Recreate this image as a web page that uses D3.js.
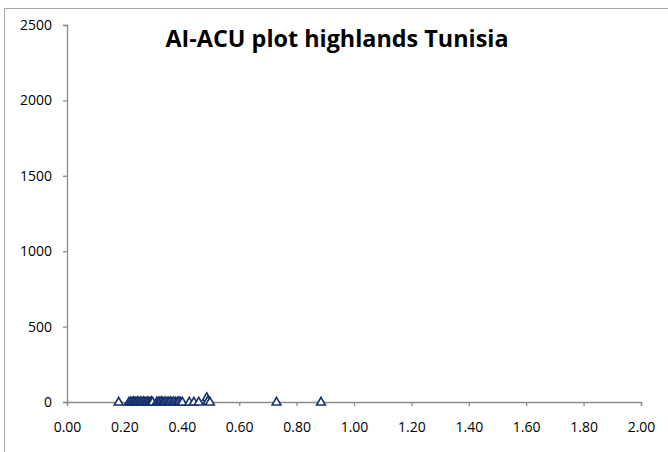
<!DOCTYPE html>
<html>
<head>
<meta charset="utf-8">
<script src="https://d3js.org/d3.v7.min.js"></script>
<style>
    body { margin: 0; background: #fff; }
    .tickLabel { font-family: "Open Sans", sans-serif; font-size: 14px; fill: #000; }
    .chartTitle { font-family: "Open Sans", sans-serif; font-weight: bold; font-size: 23px; fill: #000; }
</style>
</head>
<body>
<script>
//wrap everything in an anonymous function so nothing ends up in global scope
(function () {

    //chart data (AI on x, ACU on y)
    var aiValues = [0.18, 0.216, 0.222, 0.227, 0.231, 0.236, 0.24, 0.245, 0.25, 0.255,
        0.26, 0.266, 0.271, 0.276, 0.28, 0.285, 0.29, 0.294, 0.298, 0.313,
        0.318, 0.323, 0.328, 0.333, 0.338, 0.343, 0.349, 0.354, 0.36, 0.366,
        0.372, 0.378, 0.384, 0.39, 0.396, 0.402, 0.426, 0.442, 0.459, 0.487,
        0.49, 0.498, 0.73, 0.885];
    var acuValues = [0, 0, 2, 0, 3, 0, 0, 4, 0, 2,
        0, 3, 0, 0, 2, 0, 0, 3, 0, 2,
        0, 0, 3, 0, 0, 2, 0, 0, 3, 0,
        2, 0, 0, 3, 0, 0, 0, 0, 0, 30,
        5, 0, 0, 0];
    var xTicks = [0, 0.2, 0.4, 0.6, 0.8, 1.0, 1.2, 1.4, 1.6, 1.8, 2.0];
    var yTicks = [0, 500, 1000, 1500, 2000, 2500];
    var titleText = "AI-ACU plot highlands Tunisia";

    window.onload = setChart();

    function setChart() {
        var width = 668,
            height = 452;

        //plot area edges
        var left = 67, right = 641, top = 25, bottom = 402;

        var svg = d3.select("body")
            .append("svg")
            .attr("width", width)
            .attr("height", height);

        //chart area border (runs off the right and bottom of the picture)
        svg.append("rect")
            .attr("x", 4.5)
            .attr("y", 8.5)
            .attr("width", width + 10)
            .attr("height", height + 10)
            .attr("fill", "#fff")
            .attr("stroke", "#a6a6a6")
            .attr("stroke-width", 1);

        var xScale = d3.scaleLinear().domain([0, 2]).range([left, right]);
        var yScale = d3.scaleLinear().domain([0, 2500]).range([bottom, top]);

        //x axis, ticks pointing down
        var xAxis = d3.axisBottom(xScale)
            .tickValues(xTicks)
            .tickSize(4)
            .tickPadding(16)
            .tickFormat(d3.format(".2f"));

        var gx = svg.append("g")
            .attr("transform", "translate(0," + bottom + ")")
            .call(xAxis);

        //y axis, ticks pointing left
        var yAxis = d3.axisLeft(yScale)
            .tickValues(yTicks)
            .tickSize(4)
            .tickPadding(11)
            .tickFormat(d3.format("d"));

        var gy = svg.append("g")
            .attr("transform", "translate(" + left + ",0)")
            .call(yAxis);

        //style both axes like the spreadsheet ones
        [gx, gy].forEach(function (g) {
            g.attr("font-family", null).attr("font-size", null);
            g.select(".domain").attr("stroke", "#8c8c8c").attr("stroke-width", 1.3);
            g.selectAll(".tick line").attr("stroke", "#8c8c8c").attr("stroke-width", 1.3);
            g.selectAll(".tick text").attr("class", "tickLabel").attr("fill", null);
        });

        //open triangle markers
        var triangle = d3.symbol().type(d3.symbolTriangle).size(34);

        svg.selectAll(".points")
            .data(aiValues)
            .enter()
            .append("path")
            .attr("class", "points")
            .attr("d", triangle)
            .attr("transform", function (d, i) {
                return "translate(" + xScale(d) + "," + (yScale(acuValues[i]) + 0.5) + ")";
            })
            .attr("fill", "#fff")
            .attr("stroke", "#14306e")
            .attr("stroke-width", 1.6);

        //chart title
        svg.append("text")
            .attr("class", "chartTitle")
            .attr("x", 337)
            .attr("y", 47)
            .attr("text-anchor", "middle")
            .attr("textLength", 343)
            .attr("lengthAdjust", "spacingAndGlyphs")
            .text(titleText);
    };

})();
</script>
</body>
</html>
